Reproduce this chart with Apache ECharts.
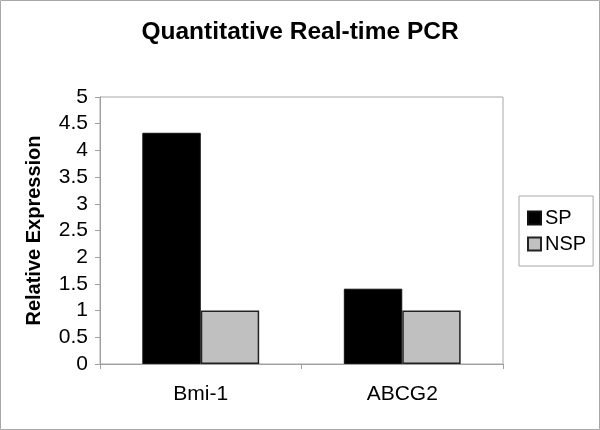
<!DOCTYPE html>
<html>
<head>
<meta charset="utf-8">
<script src="https://cdn.jsdelivr.net/npm/echarts@6/dist/echarts.min.js"></script>
<style>
html,body{margin:0;padding:0;background:#fff;}
#c{width:600px;height:430px;}
</style>
</head>
<body>
<div id="c"></div>
<script>
const titleText = 'Quantitative Real-time PCR';
const categories = ['Bmi-1', 'ABCG2'];
const seriesNames = ['SP', 'NSP'];
const spValues = [4.33, 1.41];
const nspValues = [1.0, 1.0];
const yTicks = [0, 0.5, 1, 1.5, 2, 2.5, 3, 3.5, 4, 4.5, 5];
const yName = 'Relative Expression';

const FONT = '"Liberation Sans", Arial, sans-serif';
const chart = echarts.init(document.getElementById('c'), null, {renderer: 'canvas'});
chart.setOption({
  animation: false,
  backgroundColor: '#fff',
  textStyle: {fontFamily: FONT, color: '#000'},
  title: {
    text: titleText,
    left: 'center',
    top: 15,
    textStyle: {fontFamily: FONT, fontSize: 24.5, fontWeight: 'bold', color: '#000'}
  },
  graphic: [{
    type: 'rect',
    shape: {x: 0.5, y: 0.5, width: 599, height: 429},
    style: {fill: null, stroke: '#a8a8a8', lineWidth: 1},
    silent: true
  }],
  legend: {
    orient: 'vertical',
    left: 519,
    top: 196,
    padding: [12, 7, 12, 8],
    itemGap: 6,
    itemWidth: 13,
    itemHeight: 13,
    borderColor: '#a8a8a8',
    borderWidth: 1,
    icon: 'rect',
    textStyle: {fontFamily: FONT, fontSize: 20, color: '#000', padding: [0, 0, 0, -1]},
    data: seriesNames
  },
  grid: {
    left: 100, right: 97, top: 97, bottom: 66,
    show: true,
    borderColor: '#a8a8a8',
    borderWidth: 1
  },
  xAxis: {
    type: 'category',
    data: categories,
    axisLine: {show: true, lineStyle: {color: '#a0a0a0', width: 1}},
    axisTick: {show: true, length: 5, lineStyle: {color: '#a0a0a0'}},
    axisLabel: {fontFamily: FONT, fontSize: 21, color: '#000', margin: 20}
  },
  yAxis: {
    type: 'value',
    min: yTicks[0],
    max: yTicks[yTicks.length - 1],
    interval: 0.5,
    name: yName,
    nameLocation: 'middle',
    nameGap: 56,
    nameTextStyle: {fontFamily: FONT, fontSize: 20, fontWeight: 'bold', color: '#000'},
    axisLine: {show: true, lineStyle: {color: '#a0a0a0', width: 1}},
    axisTick: {show: true, length: 5, lineStyle: {color: '#a0a0a0'}},
    splitLine: {show: false},
    axisLabel: {fontFamily: FONT, fontSize: 21, color: '#000', margin: 12}
  },
  series: [
    {
      name: seriesNames[0],
      type: 'bar',
      data: spValues,
      barGap: '0%',
      barCategoryGap: '42%',
      itemStyle: {color: '#000000', borderColor: '#111', borderWidth: 1}
    },
    {
      name: seriesNames[1],
      type: 'bar',
      data: nspValues,
      barGap: '0%',
      barCategoryGap: '42%',
      itemStyle: {color: '#c0c0c0', borderColor: '#222', borderWidth: 1.5}
    }
  ]
});
</script>
</body>
</html>
